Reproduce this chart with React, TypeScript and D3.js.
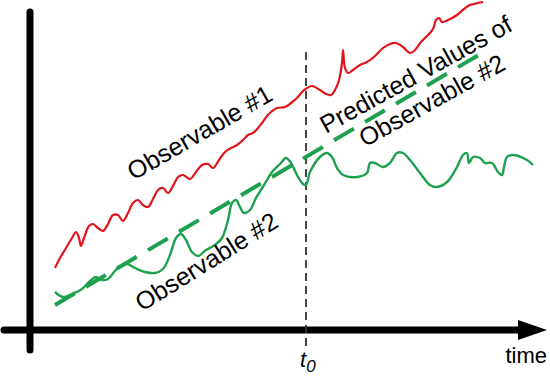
import React from "react";
import * as d3 from "d3";

// time (t) and value (v) in chart units
const observable1: [number, number][] = [
  [25, 62], [30, 72], [36, 82], [42, 92], [46, 98], [49, 92], [51, 84], [54, 92], [59, 104], [63, 106],
  [68, 102], [73, 99], [78, 106], [83, 115], [88, 115], [93, 109], [98, 117], [103, 127], [108, 130],
  [113, 125], [118, 123], [123, 131], [128, 140], [133, 142], [138, 137], [143, 144], [148, 153],
  [153, 155], [160, 151], [166, 158], [172, 165], [178, 166], [183, 162], [189, 170], [195, 178],
  [201, 182], [207, 185], [213, 190], [218, 195], [223, 197], [228, 202], [232, 207], [237, 214],
  [241, 218], [247, 222], [255, 223], [261, 227], [267, 232], [272, 238], [277, 242], [282, 244],
  [290, 240], [296, 236], [301, 235], [305, 240], [309, 250], [312, 267], [313, 280], [315, 262],
  [318, 257], [323, 260], [330, 265], [337, 268], [345, 274], [353, 282], [360, 286], [366, 287],
  [373, 283], [380, 277], [385, 280], [391, 288], [398, 295], [403, 301], [406, 310], [409, 312],
  [412, 308], [418, 310], [427, 315], [434, 321], [440, 325], [444, 326], [448, 327], [453, 328],
];

const observable2: [number, number][] = [
  [25, 38], [33, 33], [42, 36], [52, 41], [60, 49], [66, 53], [72, 50], [78, 51], [84, 58], [90, 64],
  [97, 66], [105, 62], [115, 58], [125, 57], [133, 61], [140, 75], [146, 92], [151, 96], [156, 90],
  [162, 78], [168, 74], [176, 80], [185, 85], [192, 92], [198, 110], [202, 127], [206, 130],
  [210, 123], [214, 117], [220, 120], [226, 132], [234, 145], [242, 158], [250, 166], [256, 172],
  [261, 167], [267, 155], [273, 146], [276, 145], [280, 158], [290, 173], [297, 177], [302, 173],
  [307, 162], [313, 155], [327, 153], [337, 157], [340, 167], [345, 167], [353, 163], [360, 167],
  [367, 177], [373, 177], [380, 170], [390, 157], [400, 145], [407, 143], [417, 148], [427, 163],
  [433, 175], [437, 177], [439, 167], [443, 173], [450, 172], [455, 167], [462, 167], [468, 158],
  [472, 155], [474, 163], [477, 173], [483, 175], [497, 170], [503, 165],
];

const predicted2: [number, number][] = [
  [25, 25], [452, 277],
];

const t0 = 276;
const labels = {
  obs1: "Observable #1",
  obs2: "Observable #2",
  pred1: "Predicted Values of",
  pred2: "Observable #2",
  time: "time",
};

const W = 550;
const H = 380;
const RED = "#e2141b";
const GREEN = "#1ea04f";
const FONT = "'Liberation Sans', Arial, Helvetica, sans-serif";

export default function App() {
  const x = d3.scaleLinear().domain([0, 520]).range([30, 550]);
  const y = d3.scaleLinear().domain([0, 330]).range([330, 0]);

  const line = d3
    .line<[number, number]>()
    .x((d) => x(d[0]))
    .y((d) => y(d[1]))
    .curve(d3.curveCatmullRom.alpha(0.5));
  const straight = d3
    .line<[number, number]>()
    .x((d) => x(d[0]))
    .y((d) => y(d[1]));

  const axisY = y(0);
  const axisX = x(0);
  const arrowStart = x(488);
  const arrowEnd = x(517);

  const rot = (cx: number, cy: number, a: number) => `rotate(${a} ${cx} ${cy})`;

  return (
    <svg
      width={W}
      height={H}
      style={{ position: "absolute", left: 0, top: 0, background: "#fff" }}
      fontFamily={FONT}
    >
      <rect width={W} height={H} fill="#fff" />
      {/* axes */}
      <line x1={axisX} x2={axisX} y1={y(318)} y2={y(-20)} stroke="#000" strokeWidth={7} strokeLinecap="round" />
      <line x1={x(-26)} x2={arrowStart + 2} y1={axisY} y2={axisY} stroke="#000" strokeWidth={7} strokeLinecap="round" />
      <path
        d={`M${arrowStart},${axisY - 10}L${arrowEnd},${axisY}L${arrowStart},${axisY + 10}Z`}
        fill="#000"
      />
      {/* t0 marker */}
      <line
        x1={x(t0)}
        x2={x(t0)}
        y1={y(278)}
        y2={y(-17)}
        stroke="#333"
        strokeWidth={1.8}
        strokeDasharray="8,5"
      />
      {/* curves */}
      <path d={straight(predicted2) || ""} fill="none" stroke={GREEN} strokeWidth={4} strokeDasharray="23,13" />
      <path d={line(observable1) || ""} fill="none" stroke={RED} strokeWidth={2.2} strokeLinejoin="round" />
      <path d={line(observable2) || ""} fill="none" stroke={GREEN} strokeWidth={2.4} strokeLinejoin="round" />
      {/* labels */}
      <text x={204} y={140} fontSize={25} textAnchor="middle" transform={rot(204, 140, -30)}>
        {labels.obs1}
      </text>
      <text x={211} y={269} fontSize={25} textAnchor="middle" transform={rot(211, 269, -32)}>
        {labels.obs2}
      </text>
      <text x={420} y={82} fontSize={25} textAnchor="middle" transform={rot(420, 82, -29)}>
        {labels.pred1}
      </text>
      <text x={436} y={108} fontSize={25} textAnchor="middle" transform={rot(436, 108, -29)}>
        {labels.pred2}
      </text>
      <text x={x(t0) - 6} y={367} fontSize={22} fontStyle="italic">
        t<tspan fontSize={17} dy={5}>0</tspan>
      </text>
      <text x={547} y={363} fontSize={22} textAnchor="end">
        {labels.time}
      </text>
    </svg>
  );
}
